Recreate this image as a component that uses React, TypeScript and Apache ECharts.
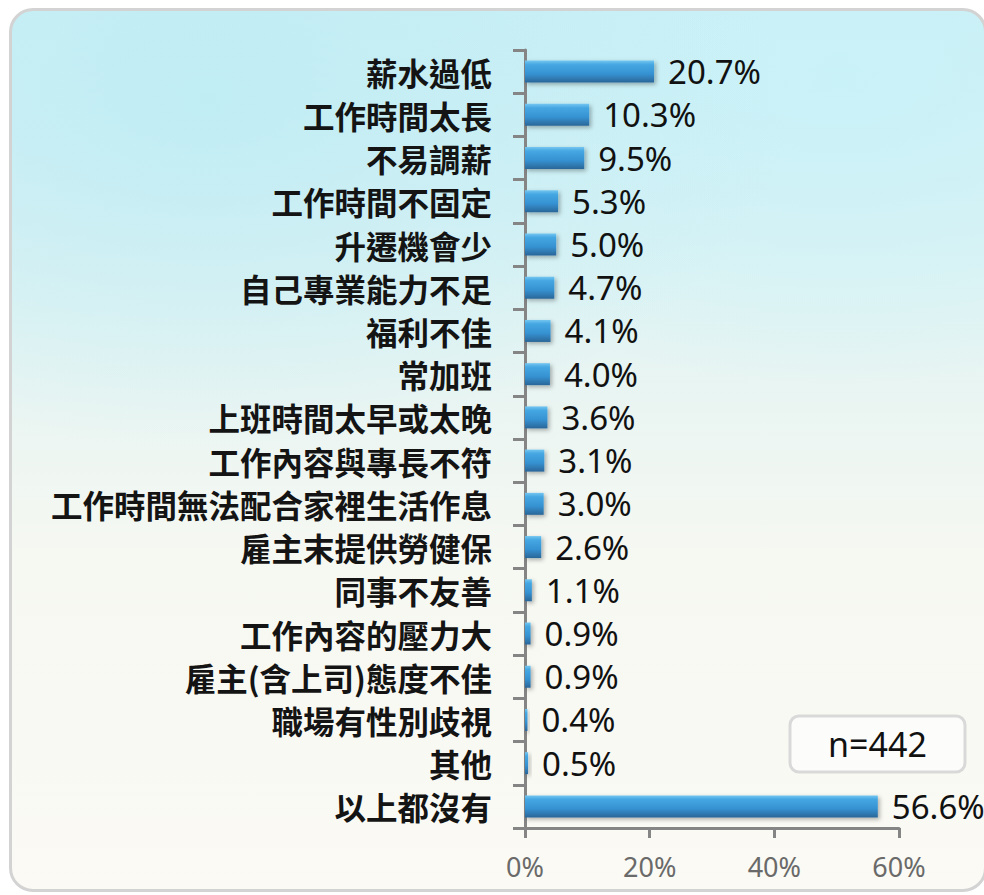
import React, { useEffect, useRef } from "react";
import * as echarts from "echarts";

const categories = [
  "薪水過低",
  "工作時間太長",
  "不易調薪",
  "工作時間不固定",
  "升遷機會少",
  "自己專業能力不足",
  "福利不佳",
  "常加班",
  "上班時間太早或太晚",
  "工作內容與專長不符",
  "工作時間無法配合家裡生活作息",
  "雇主末提供勞健保",
  "同事不友善",
  "工作內容的壓力大",
  "雇主(含上司)態度不佳",
  "職場有性別歧視",
  "其他",
  "以上都沒有",
];
const values = [20.7, 10.3, 9.5, 5.3, 5.0, 4.7, 4.1, 4.0, 3.6, 3.1, 3.0, 2.6, 1.1, 0.9, 0.9, 0.4, 0.5, 56.6];
const xTicks = [0, 20, 40, 60];
const sampleNote = "n=442";

export default function App() {
  const ref = useRef<HTMLDivElement>(null);
  useEffect(() => {
    document.body.style.margin = "0";
    if (!ref.current) return;
    const chart = echarts.init(ref.current, null, { renderer: "svg" });
    const axisColor = "#858585";
    chart.setOption({
      animation: false,
      backgroundColor: "transparent",
      grid: { left: 525, right: 85, top: 50, bottom: 67, containLabel: false },
      xAxis: {
        type: "value",
        min: xTicks[0],
        max: xTicks[xTicks.length - 1],
        interval: xTicks[1] - xTicks[0],
        axisLine: { show: true, lineStyle: { color: axisColor, width: 3 } },
        axisTick: { show: true, length: 10, lineStyle: { color: axisColor, width: 3 } },
        splitLine: { show: false },
        axisLabel: {
          formatter: "{value}%",
          color: "#6a6a6a",
          fontSize: 27,
          fontFamily: "Noto Sans",
          margin: 25,
        },
      },
      yAxis: {
        type: "category",
        inverse: true,
        data: categories,
        axisLine: { show: true, lineStyle: { color: axisColor, width: 3 } },
        axisTick: { show: true, length: 12, alignWithLabel: false, lineStyle: { color: axisColor, width: 3 } },
        axisLabel: {
          color: "#141414",
          fontSize: 31.5,
          fontWeight: "bold",
          fontFamily: "Noto Sans CJK TC",
          margin: 33,
        },
      },
      series: [
        {
          type: "bar",
          data: values,
          barWidth: 22,
          itemStyle: {
            color: new echarts.graphic.LinearGradient(0, 0, 0, 1, [
              { offset: 0, color: "#74c6f0" },
              { offset: 0.18, color: "#45a7e2" },
              { offset: 0.6, color: "#3692d2" },
              { offset: 1, color: "#2a6698" },
            ]),
            shadowColor: "rgba(0,0,0,0.3)",
            shadowBlur: 4,
            shadowOffsetX: 2,
            shadowOffsetY: 2,
          },
          label: {
            show: true,
            position: "right",
            distance: 14,
            color: "#111111",
            fontSize: 33,
            fontFamily: "Noto Sans",
            formatter: (p: any) => `${Number(p.value).toFixed(1)}%`,
          },
        },
      ],
      graphic: [
        {
          type: "rect",
          shape: { x: 790, y: 716, width: 175, height: 56, r: 9 },
          style: { fill: "rgba(255,255,255,0.55)", stroke: "#d9d9d9", lineWidth: 3 },
          z: 10,
        },
        {
          type: "text",
          x: 877.5,
          y: 744,
          style: {
            text: sampleNote,
            fill: "#111111",
            fontSize: 34,
            fontFamily: "Noto Sans",
            align: "center",
            verticalAlign: "middle",
          },
          z: 11,
        },
      ],
    });
    return () => chart.dispose();
  }, []);
  return (
    <div style={{ position: "relative", width: 984, height: 895, background: "#ffffff", overflow: "hidden" }}>
      <div
        style={{
          position: "absolute",
          left: 9,
          top: 8,
          width: 978,
          height: 884,
          boxSizing: "border-box",
          border: "3px solid #d3d3d3",
          borderRadius: 24,
          background:
            "radial-gradient(ellipse 60% 40% at 20% 10%, rgba(190,236,244,0.9), rgba(190,236,244,0) 100%), radial-gradient(ellipse 50% 35% at 85% 8%, rgba(200,242,248,0.9), rgba(200,242,248,0) 100%), linear-gradient(to bottom, #cdeff5 0%, #dcf2f4 25%, #eaf5f2 45%, #f6f8f2 62%, #fbfaf4 100%)",
        }}
      />
      <div ref={ref} style={{ position: "absolute", left: 0, top: 0, width: 984, height: 895 }} />
    </div>
  );
}
